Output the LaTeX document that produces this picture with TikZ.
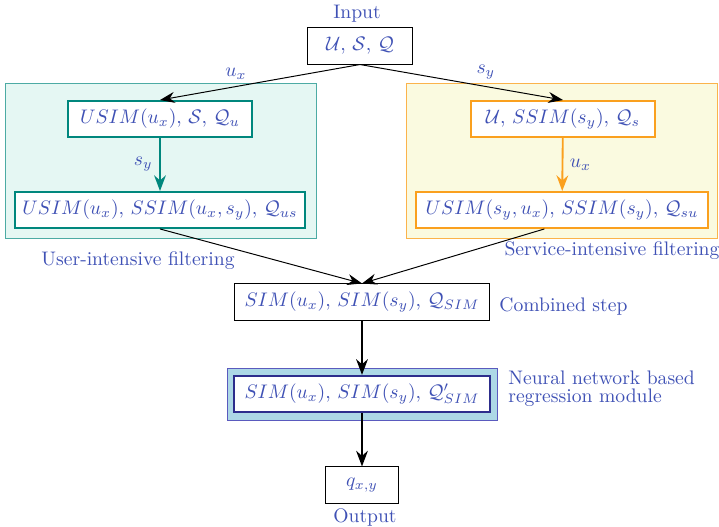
\documentclass[tikz,border=0pt]{standalone}
\usepackage{amsmath}
\usetikzlibrary{arrows.meta}

\definecolor{txtblue}{RGB}{63,81,181}
\definecolor{userteal}{RGB}{0,135,125}
\definecolor{userfill}{RGB}{229,247,243}
\definecolor{servorange}{RGB}{250,160,30}
\definecolor{servfill}{RGB}{250,250,224}
\definecolor{nnfill}{RGB}{173,216,230}
\definecolor{nnedge}{RGB}{90,90,190}
\definecolor{nnnavy}{RGB}{45,45,140}

\tikzset{
  box/.style={draw, fill=white, minimum height=18.4pt, inner sep=2pt, text=txtblue},
  caption/.style={text=txtblue, inner sep=1pt},
  flow/.style={-{Stealth[length=7.5pt,width=5.6pt]}, line width=0.5pt},
  bigflow/.style={-{Stealth[length=8pt,width=6pt]}, line width=0.95pt}
}

\begin{document}
\begin{tikzpicture}[x=0.51pt, y=-0.51pt]
    \useasboundingbox (0,0) rectangle (719,527);

    % Fondos de los dos filtros
    \filldraw[fill=userfill, draw=userteal!70, line width=0.5pt] (5,83) rectangle (316,238);
    \filldraw[fill=servfill, draw=servorange!80, line width=0.5pt] (406,83) rectangle (717,238);
    \filldraw[fill=nnfill, draw=nnedge, line width=0.5pt] (227,368) rectangle (497,420);

    % Entrada
    \node[caption] (inlabel) at (357,14) {Input};
    \node[box, minimum width=53.8pt, line width=0.5pt] (input) at (360,46) {$\mathcal{U}$, $\mathcal{S}$, $\mathcal{Q}$};

    % Filtrado por usuario
    \node[box, draw=userteal, line width=0.95pt, minimum width=93.5pt] (ua) at (160,119) {$USIM(u_x)$, $\mathcal{S}$, $\mathcal{Q}_u$};
    \node[box, draw=userteal, line width=0.95pt, minimum width=148.2pt] (ub) at (160,210) {$USIM(u_x)$, $SSIM(u_x,s_y)$, $\mathcal{Q}_{us}$};
    \node[caption] (ulabel) at (138,261) {User-intensive filtering};

    % Filtrado por servicio
    \node[box, draw=servorange, line width=0.95pt, minimum width=93.5pt] (sa) at (563,119) {$\mathcal{U}$, $SSIM(s_y)$, $\mathcal{Q}_s$};
    \node[box, draw=servorange, line width=0.95pt, minimum width=149.2pt] (sb) at (562,210) {$USIM(s_y,u_x)$, $SSIM(s_y)$, $\mathcal{Q}_{su}$};
    \node[caption] (slabel) at (612,251) {Service-intensive filtering};

    % Paso combinado y red neuronal
    \node[box, minimum width=130.3pt, line width=0.5pt] (comb) at (362,302) {$SIM(u_x)$, $SIM(s_y)$, $\mathcal{Q}_{SIM}$};
    \node[caption, anchor=west] (clabel) at (497,306) {Combined step};
    \node[box, draw=nnnavy, line width=1.1pt, minimum width=130.3pt] (nn) at (362,394) {$SIM(u_x)$, $SIM(s_y)$, $\mathcal{Q}'_{SIM}$};
    \node[caption, anchor=west, align=left] (nnlabel) at (506,389) {Neural network based\\[-3pt]regression module};

    % Salida
    \node[box, minimum width=36.8pt, line width=0.5pt] (output) at (362,485) {$q_{x,y}$};
    \node[caption] (outlabel) at (365,517) {Output};

    % Flechas
    \draw[flow] (input.south) -- node[pos=0.62, above, text=txtblue] {$u_x$} (ua.north);
    \draw[flow] (input.south) -- node[pos=0.62, above, text=txtblue] {$s_y$} (sa.north);
    \draw[bigflow, userteal] (ua) -- node[left, text=txtblue] {$s_y$} (ub);
    \draw[bigflow, servorange] (sa) -- node[right, text=txtblue] {$u_x$} (sb);
    \draw[flow] (ub.south) -- (comb.north);
    \draw[flow] ([xshift=-9pt]sb.south) -- (comb.north);
    \draw[bigflow] (comb) -- (nn);
    \draw[bigflow] (nn) -- (output);
\end{tikzpicture}
\end{document}
